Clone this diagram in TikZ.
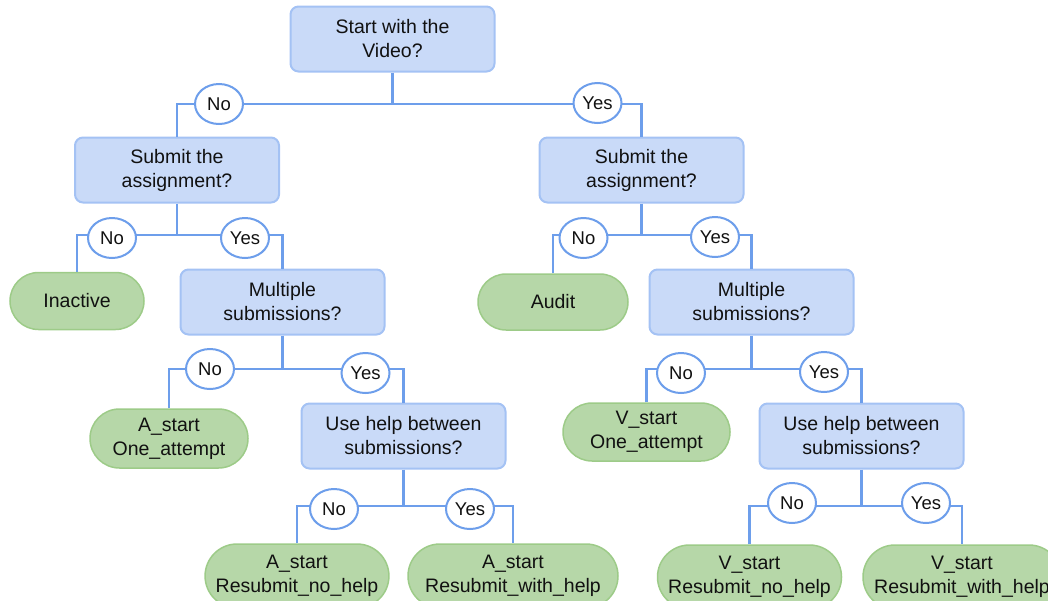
\documentclass[tikz,border=0pt]{standalone}
\usepackage{fontspec}
\setmainfont{Liberation Sans}
\usetikzlibrary{shapes.misc,shapes.geometric}
\definecolor{qfill}{HTML}{C9DAF8}
\definecolor{qline}{HTML}{A4C2F4}
\definecolor{lfill}{HTML}{B6D7A8}
\definecolor{lline}{HTML}{9DCB88}
\definecolor{linkc}{HTML}{6D9EEB}
\definecolor{txt}{HTML}{111111}

\begin{document}
\begin{tikzpicture}[x=1pt, y=-1pt,
  font=\fontsize{19.5}{24}\selectfont, text=txt,
  qbox/.style={draw=qline, fill=qfill, line width=2pt, rounded corners=8pt,
               align=center, minimum width=204pt, minimum height=65pt, inner sep=3pt},
  leaf/.style={draw=lline, fill=lfill, line width=1.5pt, rounded rectangle,
               align=center, minimum height=58pt, inner sep=3pt},
  ans/.style={draw=linkc, fill=white, line width=2pt, ellipse, inner sep=0pt,
              minimum width=48pt, minimum height=40pt, font=\fontsize{18.5}{22}\selectfont},
  link/.style={draw=linkc, line width=2.2pt}]
\useasboundingbox (0,0) rectangle (1048,600);
\clip (0,0) rectangle (1048,600);
% questions
\node[qbox] (start) at (392.5,39) {Start with the\\Video?};
\node[qbox] (subL) at (177,170) {Submit the\\assignment?};
\node[qbox] (subR) at (641.5,170) {Submit the\\assignment?};
\node[qbox] (multL) at (282.5,302) {Multiple\\submissions?};
\node[qbox] (multR) at (751.5,302) {Multiple\\submissions?};
\node[qbox] (helpL) at (403.5,436) {Use help between\\submissions?};
\node[qbox] (helpR) at (861.5,436) {Use help between\\submissions?};
% outcomes
\node[leaf, minimum width=140pt, minimum height=57pt] (inact) at (77,301) {Inactive};
\node[leaf, minimum width=156pt, minimum height=56pt] (audit) at (553,302) {Audit};
\node[leaf, minimum width=164pt, minimum height=59pt] (aOne) at (169,438.5) {A\_start\\One\_attempt};
\node[leaf, minimum width=173pt] (vOne) at (646.5,432) {V\_start\\One\_attempt};
\node[leaf, minimum width=182pt, minimum height=64pt] (aNo) at (297,576) {A\_start\\Resubmit\_no\_help};
\node[leaf, minimum width=216pt, minimum height=64pt] (aWith) at (513,576) {A\_start\\Resubmit\_with\_help};
\node[leaf, minimum width=190pt, minimum height=64pt] (vNo) at (749.5,577) {V\_start\\Resubmit\_no\_help};
\node[leaf, minimum width=204pt, minimum height=64pt] (vWith) at (962,577) {V\_start\\Resubmit\_with\_help};
% junctions
\coordinate (j1) at (392.5,104);
\coordinate (j2) at (177,235);
\coordinate (j3) at (641.5,235);
\coordinate (j4) at (282.5,369);
\coordinate (j5) at (751.5,369);
\coordinate (j6) at (403.5,506);
\coordinate (j7) at (861.5,506);
\draw[link] (start.south) -- (j1);
\draw[link] (subL.north) |- (j1) -| (subR.north);
\draw[link] (subL.south) -- (j2);
\draw[link] (inact.north) |- (j2) -| (multL.north);
\draw[link] (subR.south) -- (j3);
\draw[link] (audit.north) |- (j3) -| (multR.north);
\draw[link] (multL.south) -- (j4);
\draw[link] (aOne.north) |- (j4) -| (helpL.north);
\draw[link] (multR.south) -- (j5);
\draw[link] (vOne.north) |- (j5) -| (helpR.north);
\draw[link] (helpL.south) -- (j6);
\draw[link] (aNo.north) |- (j6) -| (aWith.north);
\draw[link] (helpR.south) -- (j7);
\draw[link] (vNo.north) |- (j7) -| (vWith.north);
% answers
\node[ans] (no1) at (219,104) {No};
\node[ans] (yes1) at (597.5,103) {Yes};
\node[ans] (no2) at (112,238) {No};
\node[ans] (yes2) at (245,238) {Yes};
\node[ans] (no3) at (583.5,238) {No};
\node[ans] (yes3) at (715,237) {Yes};
\node[ans] (no4) at (210,369) {No};
\node[ans] (yes4) at (365.5,373) {Yes};
\node[ans] (no5) at (681,373) {No};
\node[ans] (yes5) at (824,372) {Yes};
\node[ans] (no6) at (334,509) {No};
\node[ans] (yes6) at (470,509) {Yes};
\node[ans] (no7) at (792,503) {No};
\node[ans] (yes7) at (926,503) {Yes};
\end{tikzpicture}
\end{document}
